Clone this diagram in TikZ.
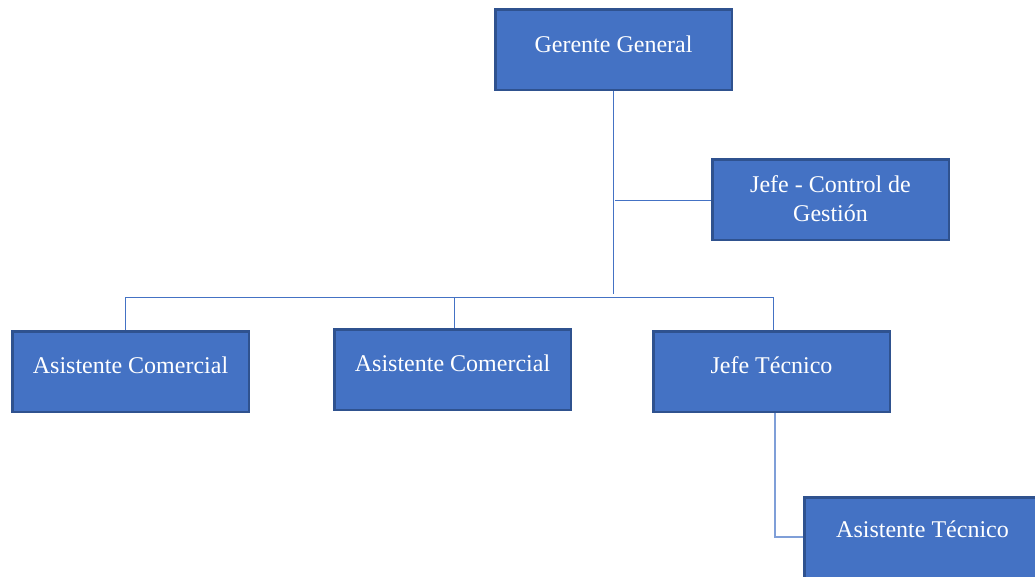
\documentclass[tikz,border=0pt]{standalone}
\usepackage{fontspec}
\setmainfont{Liberation Serif}
\definecolor{boxfill}{HTML}{4472C4}
\definecolor{boxedge}{HTML}{2F528F}
\definecolor{linkcol}{HTML}{4472C4}
\definecolor{linklight}{HTML}{7F9FD8}
\begin{document}
\begin{tikzpicture}[x=1pt,y=-1pt,
  orgbox/.style={draw=boxedge,fill=boxfill,line width=2.5pt,minimum width=236.5pt,minimum height=80.5pt,inner sep=0pt},
  orgtxt/.style={text=white,font=\fontsize{24}{29}\selectfont,anchor=base,inner sep=0pt,align=center},
  link/.style={draw=linkcol,line width=1pt},
  linklow/.style={draw=linklight,line width=1.6pt}]
\useasboundingbox (0,0) rectangle (1035,576);
\clip (0,0) rectangle (1035,576);
% boxes
\node[orgbox] (gg)  at (613.5,49.5)  {};
\node[orgbox] (jcg) at (830.5,199.5) {};
\node[orgbox] (ac1) at (130.5,371.5) {};
\node[orgbox] (ac2) at (452.5,369.5) {};
\node[orgbox] (jt)  at (771.5,371.5) {};
\node[orgbox] (at)  at (922.5,537.5) {};
% texts
\node[orgtxt] (ggt)  at (613.5,52)  {Gerente General};
\node[orgtxt] (jcgt1) at (830.5,192) {Jefe - Control de};
\node[orgtxt] (jcgt2) at (830.5,221) {Gestión};
\node[orgtxt] (ac1t) at (130.5,373) {Asistente Comercial};
\node[orgtxt] (ac2t) at (452.5,371) {Asistente Comercial};
\node[orgtxt] (jtt)  at (771.5,373) {Jefe Técnico};
\node[orgtxt] (att)  at (922.5,537.5) {Asistente Técnico};
% connector points
\coordinate (trunk) at (613,293.5);
\coordinate (tee) at (615,200);
\coordinate (b1) at (125,297);
\coordinate (b2) at (454,297);
\coordinate (b3) at (773,297);
\coordinate (elbow) at (775,537);
% connectors
\draw[link] (gg.south -| trunk) -- (trunk);
\draw[link] (tee) -- (tee -| jcg.west);
\draw[link] (b1) -- (b3);
\draw[link] (b1) -- (b1 |- ac1.north);
\draw[link] (b2) -- (b2 |- ac2.north);
\draw[link] (b3) -- (b3 |- jt.north);
\draw[linklow] (jt.south -| elbow) -- (elbow) -- (elbow -| at.west);
\end{tikzpicture}
\end{document}
